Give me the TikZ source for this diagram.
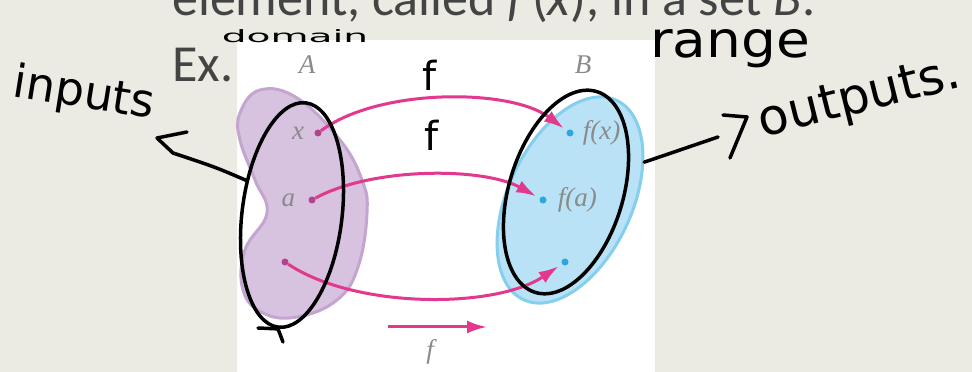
\documentclass[tikz,border=0pt]{standalone}
\usepackage{fontspec}
\setmainfont{Carlito}
\newfontfamily\figfont{Liberation Serif}
\newfontfamily\handfont{DejaVu Sans}
\usetikzlibrary{positioning, arrows.meta, shapes.geometric}

\definecolor{slidebg}{HTML}{EBEBE3}
\definecolor{slidegray}{HTML}{444444}
\definecolor{labgray}{HTML}{8A8A8A}
\definecolor{setApurple}{HTML}{D7C2DF}
\definecolor{setAedge}{HTML}{C3A5D0}
\definecolor{setBblue}{HTML}{B9E2F6}
\definecolor{setBedge}{HTML}{84CFEE}
\definecolor{mapmag}{HTML}{E2388E}
\definecolor{dotpurple}{HTML}{B0448A}
\definecolor{dotblue}{HTML}{2AA7DF}

\begin{document}
\begin{tikzpicture}[x=1pt, y=1pt,
    % Node styles
    slidetext/.style={
        font=\fontsize{52}{60}\selectfont, text=slidegray,
        inner sep=0pt, anchor=base west
    },
    setlabel/.style={
        font=\figfont\itshape\fontsize{27}{27}\selectfont,
        text=labgray, inner sep=0pt
    },
    dotA/.style={circle, fill=dotpurple, inner sep=0pt, minimum size=7pt},
    dotB/.style={circle, fill=dotblue, inner sep=0pt, minimum size=7pt},
    handtext/.style={font=\handfont, text=black, inner sep=0pt},
    handloop/.style={
        ellipse, draw=black, line width=3.5pt, inner sep=0pt
    },
    % Edge styles
    maparrow/.style={
        -{Latex[length=20pt, width=13pt]}, draw=mapmag,
        line width=3pt, shorten >=4pt
    },
    hand/.style={draw=black, line width=3.5pt, line cap=round, line join=round},
]
\useasboundingbox (0,0) rectangle (972,372);

% ===== SLIDE =====
\fill[slidebg] (0,0) rectangle (972,372);
\fill[white] (237,0) rectangle (655,332);

\node[slidetext] (defline) at (172,356)
    {element, called \textit{f\,}(\textit{x}), in a set \textit{B}.};
\node[slidetext] (ex) at (172,290) {Ex.};

% ===== SETS =====
\filldraw[fill=setApurple, draw=setAedge, line width=3pt]
    plot[smooth cycle, tension=0.7] coordinates {
    (260,282) (297,274) (340,232) (362,192) (367,159) (358,105)
    (337,72) (297,55) (263,59) (243,82) (245,122) (267,159)
    (255,192) (240,232) (240,259)};
\node[ellipse, fill=setBblue, draw=setBedge, line width=3pt,
    minimum width=220pt, minimum height=124pt, inner sep=0pt,
    rotate=65] (setB) at (570,172) {};

\node[setlabel] (Alab) at (307,307) {A};
\node[setlabel] (Blab) at (583,307) {B};

% Points
\node[dotA] (xA) at (318,239) {};
\node[dotA] (aA) at (312,172) {};
\node[dotA] (cA) at (285,110) {};
\node[dotB] (fx) at (570,239) {};
\node[dotB] (fa) at (543,172) {};
\node[dotB] (fc) at (565,110) {};

\node[setlabel, left=10pt of xA] (xlab) {x};
\node[setlabel, left=13pt of aA] (alab) {a};
\node[setlabel, right=9pt of fx] (fxlab) {f(x)};
\node[setlabel, right=11pt of fa] (falab) {f(a)};

% Mapping arrows
\draw[maparrow] (xA) .. controls +(60,45) and +(-60,45) .. (fx);
\draw[maparrow] (aA) .. controls +(60,33) and +(-60,33) .. (fa);
\draw[maparrow] (cA) .. controls +(70,-47) and +(-70,-47) .. (fc);

% Small arrow below
\coordinate (fs) at (388,45);
\coordinate (fe) at (487,45);
\draw[maparrow, shorten >=0pt] (fs) -- (fe);
\node[setlabel] (flab) at (430,20) {f};

% ===== HANDWRITING =====
\node[handloop, minimum width=100pt, minimum height=226pt, rotate=-7]
    (loopA) at (292,157) {};
\node[handloop, minimum width=114pt, minimum height=210pt, rotate=-17]
    (loopB) at (566,180) {};

% tail of the left loop
\coordinate (tailA) at (283,30);
\coordinate (tickA) at (258,44);
\draw[hand] (loopA.south) -- (tailA);
\draw[hand] (tickA) -- (loopA.south);

\node[handtext, font=\handfont\fontsize{17}{17}\selectfont,
    xscale=2.3, transform shape] (domain) at (295,336) {domain};
\node[handtext, font=\handfont\fontsize{50}{50}\selectfont,
    xscale=1.1, transform shape] (range) at (730,323) {range};
\node[handtext, font=\handfont\fontsize{46}{46}\selectfont,
    rotate=-9] (inputs) at (84,277) {inputs};
\node[handtext, font=\handfont\fontsize{50}{50}\selectfont,
    rotate=14] (outputs) at (860,272) {outputs.};
\node[handtext, font=\handfont\fontsize{40}{40}\selectfont] (f1) at (430,297) {f};
\node[handtext, font=\handfont\fontsize{40}{40}\selectfont] (f2) at (432,237) {f};

% inputs pointer
\coordinate (inTip) at (157,234);
\coordinate (inHook) at (187,240);
\coordinate (inBend) at (173,219);
\draw[hand] (loopA.150) .. controls (215,205) .. (inBend)
    -- (inTip) -- (inHook);

% outputs pointer
\coordinate (outEnd) at (718,235);
\coordinate (outA) at (723,257);
\coordinate (outB) at (747,255);
\coordinate (outC) at (730,214);
\draw[hand] (setB.322) .. controls (680,222) .. (outEnd);
\draw[hand] (outA) -- (outB) -- (outC);

\end{tikzpicture}
\end{document}
